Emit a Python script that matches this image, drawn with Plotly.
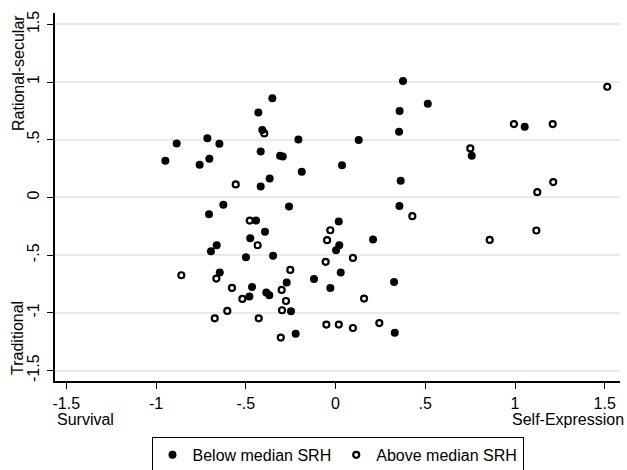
import plotly.graph_objects as go

# Below median SRH (filled)
below_x = [-0.352, -0.430, -0.408, -0.885, -0.714, -0.647, -0.207, -0.948, -0.757, -0.703,
           -0.417, -0.309, -0.294, -0.188, 0.036, -0.367, -0.417, -0.625, -0.259, -0.705,
           -0.443, -0.393, -0.475, -0.662, -0.694, -0.499, -0.348, -0.645, -0.465, -0.480,
           -0.386, -0.369, -0.272, -0.248, -0.222, 0.018, 0.021, 0.003, 0.029, -0.120,
           -0.029, 0.376, 0.514, 0.357, 0.354, 1.054, 0.129, 0.759, 0.363, 0.356,
           0.209, 0.326, 0.330]
below_y = [0.859, 0.737, 0.584, 0.468, 0.512, 0.465, 0.503, 0.317, 0.283, 0.335,
           0.399, 0.361, 0.355, 0.222, 0.280, 0.165, 0.095, -0.064, -0.078, -0.145,
           -0.200, -0.298, -0.353, -0.414, -0.466, -0.518, -0.506, -0.651, -0.775, -0.859,
           -0.824, -0.847, -0.737, -0.986, -1.180, -0.208, -0.414, -0.457, -0.651, -0.706,
           -0.784, 1.009, 0.812, 0.749, 0.569, 0.613, 0.497, 0.361, 0.144, -0.075,
           -0.364, -0.732, -1.171]

# Above median SRH (hollow)
above_x = [-0.397, -0.556, -0.478, -0.434, -0.859, -0.664, -0.577, -0.519, -0.252, -0.300,
           -0.276, -0.298, -0.603, -0.673, -0.428, -0.305, -0.029, -0.047, -0.055, -0.051,
           0.018, 1.514, 0.994, 1.210, 0.751, 1.213, 1.124, 0.428, 0.859, 1.119,
           0.097, 0.159, 0.097, 0.244]
above_y = [0.555, 0.113, -0.200, -0.414, -0.674, -0.703, -0.784, -0.879, -0.628, -0.801,
           -0.897, -0.977, -0.983, -1.047, -1.047, -1.214, -0.284, -0.370, -0.558, -1.101,
           -1.101, 0.959, 0.636, 0.636, 0.425, 0.133, 0.046, -0.162, -0.368, -0.286,
           -0.524, -0.876, -1.131, -1.088]

tick_vals = [-1.5, -1, -0.5, 0, 0.5, 1, 1.5]
tick_text = ["-1.5", "-1", "-.5", "0", ".5", "1", "1.5"]

FONT = "Liberation Sans, Arial, sans-serif"
fs = 16

fig = go.Figure()
fig.add_trace(go.Scatter(x=below_x, y=below_y, mode="markers", name="Below median SRH",
                         marker=dict(symbol="circle", size=8, color="black", line=dict(width=0))))
fig.add_trace(go.Scatter(x=above_x, y=above_y, mode="markers", name="Above median SRH",
                         marker=dict(symbol="circle-open", size=6, color="black",
                                     line=dict(width=2.2, color="black"))))

fig.update_layout(
    width=627, height=470,
    margin=dict(l=55, r=7, t=13, b=89, autoexpand=False),
    paper_bgcolor="white", plot_bgcolor="white",
    font=dict(family=FONT, size=fs, color="black"),
    showlegend=True,
    legend=dict(orientation="h", x=0.5, xanchor="center", y=-0.152, yanchor="top",
                bordercolor="black", borderwidth=1, font=dict(size=16),
                itemwidth=30, tracegroupgap=0),
    xaxis=dict(range=[-1.563, 1.585], tickvals=tick_vals, ticktext=tick_text,
               showgrid=False, zeroline=False, showline=True, linecolor="black", linewidth=1.5,
               ticks="outside", ticklen=6, tickwidth=1, tickcolor="black",
               ticklabelstandoff=1, tickfont=dict(size=fs)),
    yaxis=dict(range=[-1.59, 1.598], tickvals=tick_vals, ticktext=tick_text,
               showgrid=True, gridcolor="#eaeaea", gridwidth=1.5, zeroline=False,
               showline=True, linecolor="black", linewidth=1.5,
               ticks="outside", ticklen=6, tickwidth=1, tickcolor="black",
               tickangle=-90, ticklabelstandoff=2, tickfont=dict(size=fs)),
    annotations=[
        dict(text="Survival", xref="paper", yref="paper", x=0.0, y=-0.104,
             xanchor="left", yanchor="middle", showarrow=False, font=dict(size=fs)),
        dict(text="Self-Expression", xref="paper", yref="paper", x=1.0106, y=-0.104,
             xanchor="right", yanchor="middle", showarrow=False, font=dict(size=fs)),
        dict(text="Rational-secular", xref="paper", yref="paper", x=-0.0655, y=1.0,
             xanchor="center", yanchor="top", textangle=-90, showarrow=False, font=dict(size=fs)),
        dict(text="Traditional", xref="paper", yref="paper", x=-0.0655, y=0.011,
             xanchor="center", yanchor="bottom", textangle=-90, showarrow=False, font=dict(size=fs)),
    ],
)

fig.write_html("out.html")
